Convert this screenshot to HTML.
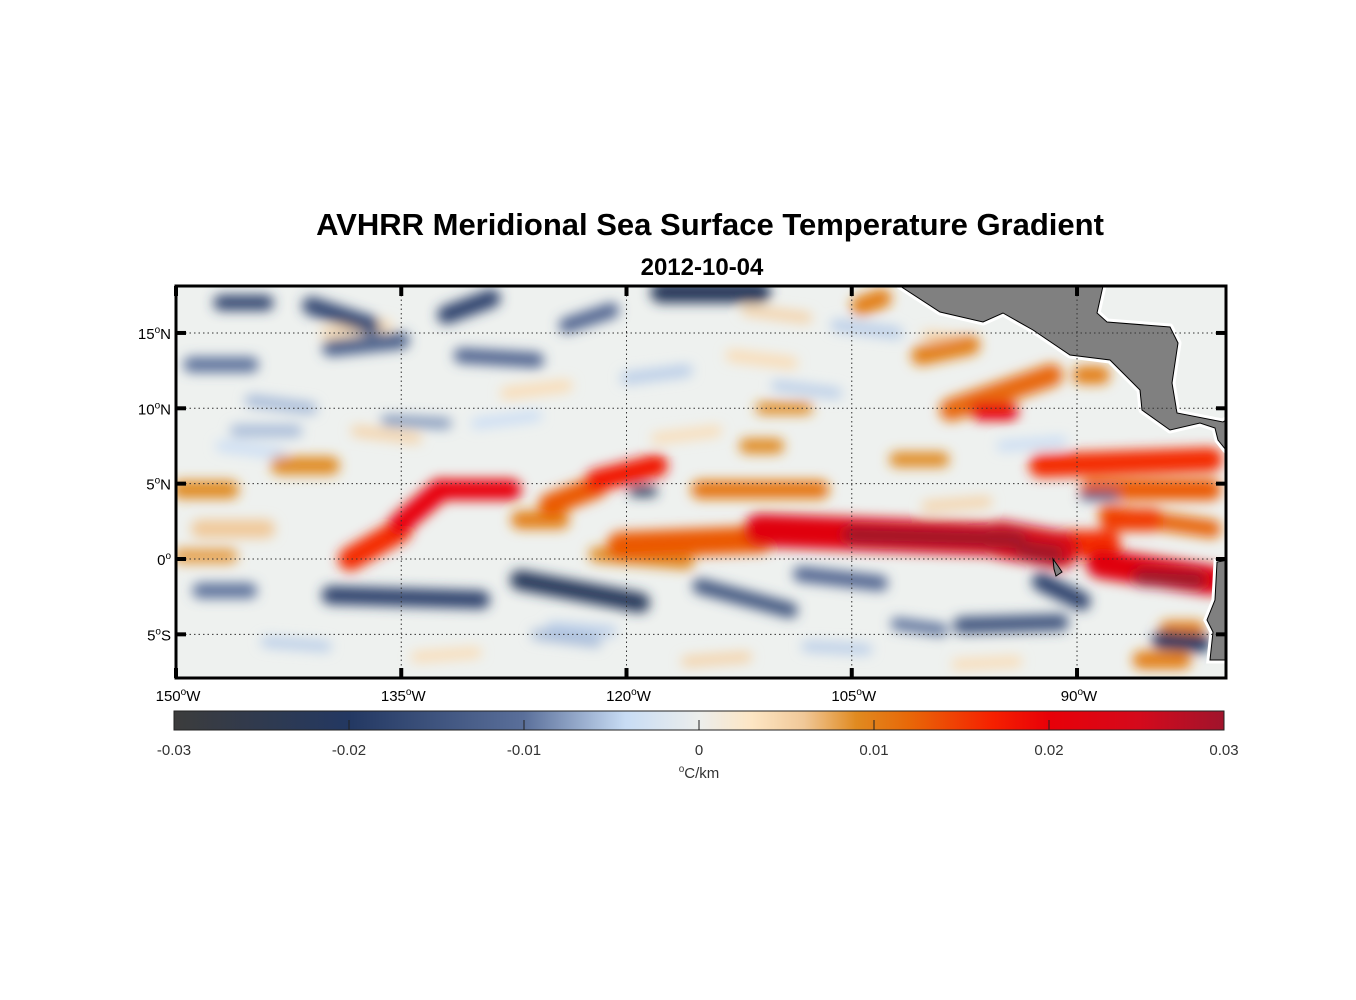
<!DOCTYPE html>
<html><head><meta charset="utf-8"><style>
body{margin:0;background:#fff;width:1356px;height:1000px;overflow:hidden;font-family:"Liberation Sans",sans-serif}
svg{position:absolute;left:0;top:0}
</style></head><body>
<svg id="chart" width="1356" height="1000" viewBox="0 0 1356 1000" font-family="Liberation Sans, sans-serif">
<defs>
<clipPath id="mapclip"><rect x="176" y="286" width="1050" height="392"/></clipPath>
<filter id="blur" x="-20%" y="-20%" width="140%" height="140%"><feGaussianBlur stdDeviation="6"/></filter>
<linearGradient id="cbgrad" x1="0" x2="1" y1="0" y2="0">
<stop offset="0" stop-color="#3c3c3c"/><stop offset="0.167" stop-color="#233862"/>
<stop offset="0.333" stop-color="#5a6f9a"/><stop offset="0.43" stop-color="#c8dcf4"/>
<stop offset="0.5" stop-color="#eceeec"/><stop offset="0.55" stop-color="#fde6c4"/>
<stop offset="0.6" stop-color="#f0c898"/><stop offset="0.65" stop-color="#e08a20"/>
<stop offset="0.7" stop-color="#e86808"/><stop offset="0.78" stop-color="#f62000"/>
<stop offset="0.833" stop-color="#e80008"/><stop offset="0.92" stop-color="#d40a1c"/>
<stop offset="1" stop-color="#a0142c"/></linearGradient>
</defs>
<text x="710" y="235" text-anchor="middle" font-size="31" font-weight="bold">AVHRR Meridional Sea Surface Temperature Gradient</text>
<text x="702" y="275" text-anchor="middle" font-size="24" font-weight="bold">2012-10-04</text>
<g clip-path="url(#mapclip)">
<rect x="176" y="286" width="1050" height="392" fill="#eef1ef"/>
<g id="blobs" filter="url(#blur)"></g>
<polygon fill="#808080" stroke="#fff" stroke-width="7" stroke-linejoin="round"
points="900,286 940,312 983,322 1003,313 1033,330 1070,355 1110,360 1140,390 1142,410 1170,430 1200,423 1215,428 1218,440 1226,450 1226,420 1223,422 1177,413 1172,383 1178,343 1170,327 1107,322 1097,313 1103,286"/>
<polygon fill="#808080" stroke="#000" stroke-width="1" points="900,286 940,312 983,322 1003,313 1033,330 1070,355 1110,360 1140,390 1142,410 1170,430 1200,423 1215,428 1218,440 1226,450 1226,420 1223,422 1177,413 1172,383 1178,343 1170,327 1107,322 1097,313 1103,286"/>
<polygon fill="#808080" stroke="#fff" stroke-width="7" points="1230,560 1217,562 1215,600 1207,620 1213,632 1210,660 1230,660"/>
<polygon fill="#808080" stroke="#000" stroke-width="1" points="1228,560 1217,562 1215,600 1207,620 1213,632 1210,660 1228,660"/>
<polygon fill="#808080" stroke="#000" stroke-width="1" points="1053,559 1058,566 1062,572 1056,576 1054,569"/>
</g>
<g id="grid"></g>
<rect x="176" y="286" width="1050" height="392" fill="none" stroke="#000" stroke-width="3"/>
<g id="axes"></g>
<rect x="174" y="711" width="1050" height="19" fill="url(#cbgrad)" stroke="#222" stroke-width="1"/>
<g id="cbticks"></g>
<text x="699" y="778" text-anchor="middle" font-size="15" fill="#333"><tspan font-size="10" dy="-6">o</tspan><tspan dy="6">C/km</tspan></text>
</svg>
<script>
const lon1=[-120.4,-111.1,-105,-95.1,-93.5,-91.1,-88.4,-85.7,-87.7,-92.4,-89.1,-88,-138.4,-135.1,-132.4,-125.1,-122,-127.1,-115.1,-149.7,-143.1,-148.4,-149.7,-122,-98.4,-96.5,-100.4,-104.4,-89.7,-85.7,-84,-111,-102,-112,
-148.4,-139.7,-127.1,-115.1,-108.4,-97.7,-92.4,-84.4,-117.7,-147,-141,-132,-139.7,-131,-149,-119.5,-89.5,-124,-146,-102,
-145,-136,-128,-120,-113,-106,-100,-144,-134,-126,-116,-108,-98,-147,-138,-130,-118,-110,-100,-140,-112,-95,-125];
const lat1=[0.9,1.9,1.6,1.3,0.6,1.0,-0.3,-1.2,2.6,6.2,4.6,3.0,0.0,2.3,4.6,3.6,5.2,2.6,4.6,4.6,6.2,2.0,0.2,0.3,9.9,9.8,13.5,16.8,12.2,-6.7,-4.6,10.0,6.6,7.5,
-2.1,-2.4,-1.4,-1.8,-1.0,-4.4,-1.5,-5.4,17.7,17.0,16.8,16.2,14.0,13.5,12.9,4.5,4.2,15.5,8.5,-4.3,
10.5,9.2,11.0,12.0,13.5,15.5,14.8,-5.5,-6.5,-5.0,-6.8,-5.8,-7.0,7.5,8.5,9.0,8.0,11.5,3.5,15.0,16.5,7.5,-4.5];
const lon2=[-111.1,-95.1,-94,-91.1,-91.5,-88,-81.1,-82,-85,-81.1,-81.1,-81,-135.1,-132.4,-127.7,-122,-118,-124.4,-107.1,-146.4,-139.7,-144,-146.4,-116,-91.7,-94.5,-97.1,-103,-88.4,-83,-82,-108,-99,-110,
-145.1,-129.7,-119.1,-109.1,-103.1,-91.1,-89.7,-81.7,-111.1,-144,-137,-129,-135,-126,-145,-118.3,-87.5,-121,-142,-99,
-141,-132,-124,-116,-109,-102,-97,-140,-130,-122,-112,-104,-94,-143,-134,-126,-114,-106,-96,-136,-108,-91,-121];
const lat2=[1.3,1.3,1.3,0.6,0.3,1.0,-1.4,-1.4,2.6,6.6,4.6,2.0,1.9,4.6,4.6,4.8,6.2,2.6,4.6,4.6,6.2,2.0,0.2,-0.2,12.2,9.8,14.2,17.3,12.2,-6.7,-4.6,10.0,6.6,7.5,
-2.1,-2.7,-2.9,-3.4,-1.6,-4.2,-2.8,-5.6,17.7,17.0,15.5,17.3,14.5,13.2,12.9,4.5,4.2,16.5,8.5,-4.7,
10.0,9.0,11.5,12.5,13.0,15.0,14.5,-5.8,-6.2,-5.5,-6.5,-6.0,-6.8,7.0,8.0,9.5,8.5,11.0,3.8,15.5,16.0,7.8,-4.8];
const widths=[1.8,2.2,1.2,2.5,1.2,1.8,2.0,1.2,1.5,1.6,1.4,1.2,1.6,1.5,1.4,1.5,1.5,1.2,1.2,1.2,1.2,1.2,1.0,1.0,1.5,1.2,1.3,1.3,1.2,1.2,1.0,0.8,1.0,1.0,
1.0,1.2,1.3,1.0,1.0,1.1,1.2,1.2,1.4,1.0,1.2,1.2,1.1,1.0,1.0,0.7,0.6,1.0,0.8,0.8,
0.8,0.7,0.8,0.8,0.8,0.8,0.7,0.7,0.7,0.7,0.7,0.7,0.7,0.7,0.7,0.7,0.7,0.7,0.7,0.8,0.7,0.7,0.7];
const values=[0.013,0.022,0.03,0.024,0.03,0.016,0.022,0.03,0.015,0.016,0.013,0.012,0.016,0.02,0.02,0.013,0.018,0.01,0.011,0.009,0.009,0.006,0.008,0.009,0.012,0.02,0.01,0.01,0.01,0.01,0.01,0.009,0.009,0.009,
-0.01,-0.018,-0.022,-0.015,-0.012,-0.015,-0.018,-0.02,-0.022,-0.018,-0.017,-0.018,-0.013,-0.012,-0.01,-0.022,-0.014,-0.012,-0.006,-0.01,
-0.006,-0.008,0.004,-0.005,0.004,-0.005,0.005,-0.005,0.004,-0.006,0.005,-0.005,0.004,-0.004,0.005,-0.004,0.004,-0.005,0.005,0.004,0.005,-0.004,-0.005];
const lonTicks=[-150,-135,-120,-105,-90];
const lonLabels=["150","135","120","105","90"];
const latTicks=[15,10,5,0,-5];
const latLabels=["15","10","5","0","5"];
const latSuffix=["N","N","N","","S"];
const cbTicks=[-0.03,-0.02,-0.01,0,0.01,0.02,0.03];
const cbLabels=["-0.03","-0.02","-0.01","0","0.01","0.02","0.03"];

const NS="http://www.w3.org/2000/svg";
const X=lon=>176+(lon+150)*15.017;
const Y=lat=>559-lat*15.07;
const CB=v=>174+(v+0.03)/0.06*1050;
const stops=[[-0.03,[60,60,60]],[-0.02,[35,56,98]],[-0.01,[90,111,154]],[-0.0042,[200,220,244]],[0,[236,238,236]],[0.003,[253,230,196]],[0.006,[240,200,152]],[0.009,[224,138,32]],[0.012,[232,104,8]],[0.0168,[246,32,0]],[0.02,[232,0,8]],[0.025,[212,10,28]],[0.03,[160,20,44]]];
function cmap(v){v=Math.max(-0.03,Math.min(0.03,v));for(let i=0;i<stops.length-1;i++){const a=stops[i],b=stops[i+1];if(v<=b[0]){const t=(v-a[0])/(b[0]-a[0]);return 'rgb('+a[1].map((c,k)=>Math.round(c+(b[1][k]-c)*t)).join(',')+')';}}return 'rgb(160,20,44)';}
function mk(tag,attrs,parent){const e=document.createElementNS(NS,tag);for(const k in attrs)e.setAttribute(k,attrs[k]);parent.appendChild(e);return e;}
const blobs=document.getElementById('blobs');
const order=values.map((v,i)=>i).sort((a,b)=>Math.abs(values[a])-Math.abs(values[b]));
for(const i of order){
 const l=mk('line',{x1:X(lon1[i]),y1:Y(lat1[i]),x2:X(lon2[i]),y2:Y(lat2[i]),stroke:cmap(values[i]),'stroke-width':widths[i]*15,'stroke-linecap':'round'},blobs);
 
 
}
const grid=document.getElementById('grid'),axes=document.getElementById('axes');
lonTicks.forEach((v,i)=>{
 const x=X(v);
 if(i>0){const g=mk('line',{x1:x,y1:286,x2:x,y2:678,stroke:'#333','stroke-width':1,'stroke-dasharray':'1.5,3'},grid);
 
 }
 mk('line',{x1:x,y1:286,x2:x,y2:296,stroke:'#000','stroke-width':4},axes);
 mk('line',{x1:x,y1:668,x2:x,y2:678,stroke:'#000','stroke-width':4},axes);
 const t=mk('text',{x:x+2,y:701,'text-anchor':'middle','font-size':15},axes);
 
 
 t.innerHTML=lonLabels[i]+'<tspan font-size="10" dy="-6">o</tspan><tspan dy="6">W</tspan>';
});
latTicks.forEach((v,i)=>{
 const y=Y(v);
 const g=mk('line',{x1:176,y1:y,x2:1226,y2:y,stroke:'#333','stroke-width':1,'stroke-dasharray':'1.5,3'},grid);
 
 
 mk('line',{x1:176,y1:y,x2:186,y2:y,stroke:'#000','stroke-width':4},axes);
 mk('line',{x1:1216,y1:y,x2:1226,y2:y,stroke:'#000','stroke-width':4},axes);
 const t=mk('text',{x:171,y:y+6,'text-anchor':'end','font-size':15},axes);
 
 
 t.innerHTML=latLabels[i]+'<tspan font-size="10" dy="-6">o</tspan><tspan dy="6">'+latSuffix[i]+'</tspan>';
});
const cbt=document.getElementById('cbticks');
cbTicks.forEach((v,i)=>{
 const x=CB(v);
 if(i>0&&i<cbTicks.length-1)mk('line',{x1:x,y1:720,x2:x,y2:730,stroke:'#222','stroke-width':1},cbt);
 const t=mk('text',{x:x,y:755,'text-anchor':'middle','font-size':15,fill:'#333'},cbt);
 
 
 t.textContent=cbLabels[i];
});
</script>
</body></html>
